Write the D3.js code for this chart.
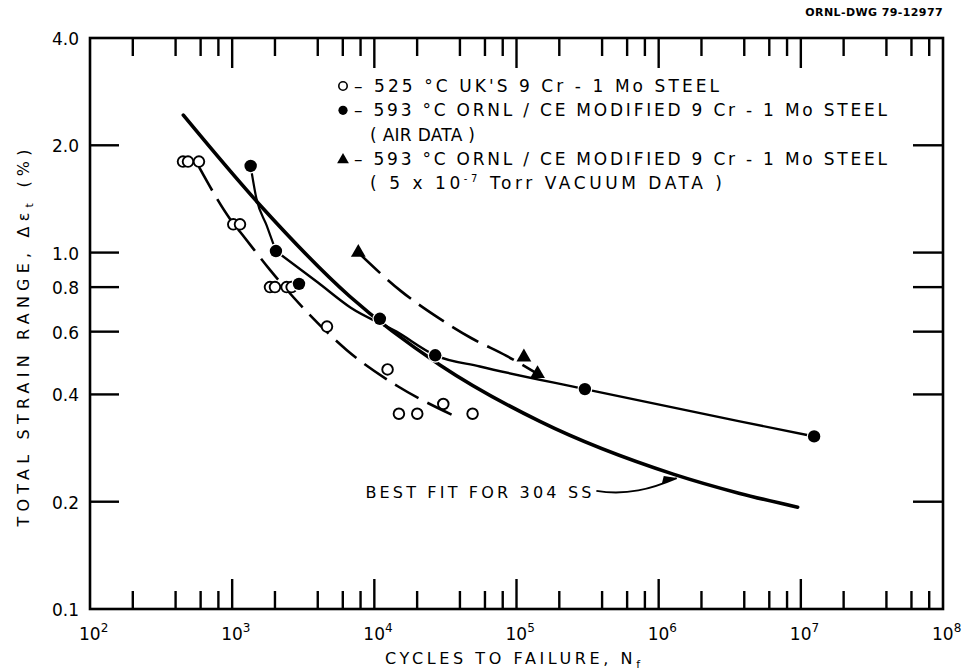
<!DOCTYPE html>
<html lang="en">
<head>
<meta charset="utf-8">
<title>Strain range vs cycles to failure</title>
<script type="text/javascript" src="https://d3js.org/d3.v7.min.js"></script>
<style>
  body { margin: 0; background: #fff; }
  svg text { font-family: "DejaVu Sans", sans-serif; fill: #000; }
  .tick-label { font-size: 17px; }
  .legend { font-size: 17px; }
  .title { font-size: 16px; }
</style>
</head>
<body>
<div id="chart"></div>
<script type="text/javascript">

var w = 963;
var h = 670;

// ---- data ----
// 525 C UK'S 9Cr-1Mo steel (open circles)
var ukCycles = [451, 489, 584, 1018, 1135, 1845, 2000, 2415, 2620, 4645, 12390, 14890, 20040, 30550, 49100];
var ukStrain = [1.8, 1.8, 1.8, 1.2, 1.2, 0.8, 0.8, 0.8, 0.8, 0.62, 0.47, 0.353, 0.353, 0.376, 0.353];
// 593 C ORNL/CE modified 9Cr-1Mo, air (filled circles)
var airCycles = [1349, 2032, 2952, 10940, 26800, 302600, 12400000];
var airStrain = [1.75, 1.01, 0.817, 0.652, 0.515, 0.414, 0.305];
// 593 C ORNL/CE modified 9Cr-1Mo, vacuum (triangles)
var vacCycles = [7713, 112700, 140600];
var vacStrain = [1.0, 0.509, 0.457];

// hand drawn curves
var fit304Cycles = [453, 1567, 6730, 28900, 146000, 1265000, 3720000, 9500000];
var fit304Strain = [2.43, 1.36, 0.753, 0.484, 0.336, 0.239, 0.211, 0.193];
var airFitACycles = [1349, 1480, 1750, 2032];
var airFitAStrain = [1.75, 1.42, 1.19, 1.01];
var airFitBCycles = [2032, 4010, 6830, 14320, 26800, 55300, 302600, 3720000, 12400000];
var airFitBStrain = [1.01, 0.824, 0.70, 0.60, 0.515, 0.479, 0.414, 0.336, 0.305];
var ukFitCycles = [584, 966, 1230, 1845, 3343, 6380, 14720, 35000];
var ukFitStrain = [1.74, 1.243, 1.099, 0.894, 0.683, 0.533, 0.421, 0.351];
var vacFitCycles = [7713, 15560, 27400, 48300, 85100, 140600];
var vacFitStrain = [1.0, 0.777, 0.661, 0.575, 0.513, 0.457];

// axes
var xMajor = [1e2, 1e3, 1e4, 1e5, 1e6, 1e7, 1e8];
var xExp = ["2", "3", "4", "5", "6", "7", "8"];
var xMinorMult = [2, 4, 6, 8];
var yTicks = [0.1, 0.2, 0.4, 0.6, 0.8, 1.0, 2.0, 4.0];
var yLabels = ["0.1", "0.2", "0.4", "0.6", "0.8", "1.0", "2.0", "4.0"];

// annotation (data coords)
var noteText = "BEST FIT FOR 304 SS";
var notePos = [8650, 0.205];
var arrowTo = [1340000, 0.233];

var legendRows = [
  {sym: "open", text: "\u2013 525 \u00b0C  UK'S  9 Cr - 1 Mo  STEEL", len: 365},
  {sym: "filled", text: "\u2013 593 \u00b0C  ORNL / CE  MODIFIED  9 Cr - 1 Mo  STEEL", len: 533},
  {sym: null, text: "( AIR  DATA )", len: 105},
  {sym: "tri", text: "\u2013 593 \u00b0C  ORNL / CE  MODIFIED  9 Cr - 1 Mo  STEEL", len: 533},
  {sym: null, text: "vac", len: 352}
];

var m = {left: 90, right: 20, top: 38, bottom: 61};

var svg = d3.select("div#chart").append("svg")
  .attr("width", w).attr("height", h);

var x = d3.scaleLog().domain([1e2, 1e8]).range([m.left, w - m.right]);
var y = d3.scaleLog().domain([0.1, 4.0]).range([h - m.bottom, m.top]);

// ---- frame + ticks ----
var axes = svg.append("g").attr("id", "axes");

var xMinor = [];
xMajor.slice(0, -1).forEach(function(d) {
  xMinorMult.forEach(function(k) { xMinor.push(d * k); });
});

function tickLines(vals, len, side) {
  axes.selectAll(null).data(vals).enter().append("line")
    .attr("x1", function(d) { return x(d); })
    .attr("x2", function(d) { return x(d); })
    .attr("y1", side == "bottom" ? y(0.1) : y(4.0))
    .attr("y2", side == "bottom" ? y(0.1) - len : y(4.0) + len)
    .attr("stroke", "#000").attr("stroke-width", 2.4);
}
tickLines(xMinor, 18, "bottom");
tickLines(xMajor.slice(1, -1), 30, "bottom");
tickLines(xMinor, 18, "top");
tickLines(xMajor.slice(1, -1), 30, "top");

var yInner = yTicks.slice(1, -1);
axes.selectAll(null).data(yInner).enter().append("line")
  .attr("x1", x(1e2)).attr("x2", x(1e2) + 29)
  .attr("y1", function(d) { return y(d); }).attr("y2", function(d) { return y(d); })
  .attr("stroke", "#000").attr("stroke-width", 2.4);
axes.selectAll(null).data(yInner).enter().append("line")
  .attr("x1", x(1e8)).attr("x2", x(1e8) - 30)
  .attr("y1", function(d) { return y(d); }).attr("y2", function(d) { return y(d); })
  .attr("stroke", "#000").attr("stroke-width", 2.4);

axes.append("rect")
  .attr("x", x(1e2)).attr("y", y(4.0))
  .attr("width", x(1e8) - x(1e2)).attr("height", y(0.1) - y(4.0))
  .attr("fill", "none").attr("stroke", "#000").attr("stroke-width", 2.6);

// tick labels
axes.selectAll(null).data(yTicks).enter().append("text")
  .attr("class", "tick-label")
  .attr("x", x(1e2) - 11)
  .attr("y", function(d) { return y(d) + 7; })
  .attr("text-anchor", "end")
  .text(function(d, i) { return yLabels[i]; });

var xl = axes.selectAll(null).data(xMajor).enter().append("text")
  .attr("class", "tick-label")
  .attr("x", function(d) { return x(d) - 11; })
  .attr("y", y(0.1) + 31);
xl.append("tspan").text("10");
xl.append("tspan").attr("dy", -8).attr("font-size", "12px")
  .text(function(d, i) { return xExp[i]; });

// axis titles
var yt = svg.append("text").attr("class", "title")
  .attr("transform", "translate(29,338) rotate(-90)")
  .attr("text-anchor", "middle")
  .attr("textLength", 377).attr("lengthAdjust", "spacing");
yt.append("tspan").text("TOTAL  STRAIN  RANGE,  \u0394\u03b5");
yt.append("tspan").attr("dy", 4).attr("font-size", "11px").text("t");
yt.append("tspan").attr("dy", -4).text("  (%)");

var xt = svg.append("text").attr("class", "title")
  .attr("x", 385).attr("y", h - 6)
  .attr("textLength", 255).attr("lengthAdjust", "spacing");
xt.append("tspan").text("CYCLES  TO  FAILURE,  N");
xt.append("tspan").attr("dy", 4).attr("font-size", "11px").text("f");

svg.append("text")
  .attr("x", x(1e8)).attr("y", 16)
  .attr("text-anchor", "end")
  .attr("font-size", "11px").attr("font-weight", "bold")
  .attr("letter-spacing", "0.4px")
  .text("ORNL-DWG 79-12977");

// ---- curves ----
var curves = svg.append("g").attr("id", "curves");
function zip(a, b) { return a.map(function(d, i) { return [d, b[i]]; }); }
var line = d3.line()
  .x(function(d) { return x(d[0]); })
  .y(function(d) { return y(d[1]); })
  .curve(d3.curveMonotoneX);

curves.append("path").datum(zip(fit304Cycles, fit304Strain))
  .attr("d", line).attr("fill", "none").attr("stroke", "#000")
  .attr("stroke-width", 3.6).attr("stroke-linecap", "round");
curves.append("path").datum(zip(airFitACycles, airFitAStrain))
  .attr("d", line).attr("fill", "none").attr("stroke", "#000").attr("stroke-width", 2.2);
curves.append("path").datum(zip(airFitBCycles, airFitBStrain))
  .attr("d", line).attr("fill", "none").attr("stroke", "#000").attr("stroke-width", 2.4);
curves.append("path").datum(zip(ukFitCycles, ukFitStrain))
  .attr("d", line).attr("fill", "none").attr("stroke", "#000")
  .attr("stroke-width", 2.6).attr("stroke-dasharray", "27,10");
curves.append("path").datum(zip(vacFitCycles, vacFitStrain))
  .attr("d", line).attr("fill", "none").attr("stroke", "#000")
  .attr("stroke-width", 2.6).attr("stroke-dasharray", "30,10");

// ---- markers ----
var pts = svg.append("g").attr("id", "points");
pts.selectAll(null).data(zip(ukCycles, ukStrain)).enter().append("circle")
  .attr("cx", function(d) { return x(d[0]); }).attr("cy", function(d) { return y(d[1]); })
  .attr("r", 5.3).attr("fill", "#fff").attr("stroke", "#000").attr("stroke-width", 1.9);
pts.selectAll(null).data(zip(airCycles, airStrain)).enter().append("circle")
  .attr("cx", function(d) { return x(d[0]); }).attr("cy", function(d) { return y(d[1]); })
  .attr("r", 6.2).attr("fill", "#000").attr("stroke", "#fff").attr("stroke-width", 2.5)
  .attr("paint-order", "stroke");
var tri = d3.symbol().type(d3.symbolTriangle).size(95);
pts.selectAll(null).data(zip(vacCycles, vacStrain)).enter().append("path")
  .attr("d", tri)
  .attr("transform", function(d) { return "translate(" + x(d[0]) + "," + y(d[1]) + ")"; })
  .attr("fill", "#000");

// ---- annotation ----
var note = svg.append("g").attr("id", "note");
note.append("text").attr("class", "title")
  .attr("x", x(notePos[0])).attr("y", y(notePos[1]))
  .attr("font-size", "17px")
  .attr("textLength", 226).attr("lengthAdjust", "spacing")
  .text(noteText);
var ax0 = x(notePos[0]) + 231, ay0 = y(notePos[1]) - 7;
var ax1 = x(arrowTo[0]), ay1 = y(arrowTo[1]);
note.append("path")
  .attr("d", "M" + ax0 + "," + ay0 + " C" + (ax0 + 30) + "," + (ay0 + 5) + " " + (ax0 + 55) + "," + (ay0 - 2) + " " + ax1 + "," + ay1)
  .attr("fill", "none").attr("stroke", "#000").attr("stroke-width", 1.8);
note.append("path")
  .attr("d", "M" + ax1 + "," + ay1 + " l-15,6 l2,-8 z")
  .attr("fill", "#000");

// ---- legend ----
var lg = svg.append("g").attr("id", "legend");
var lx = 343, ly = 86, ld = 24.3;
legendRows.forEach(function(r, i) {
  var yy = ly + i * ld;
  if (r.sym == "open") {
    lg.append("circle").attr("cx", lx).attr("cy", yy).attr("r", 4.2)
      .attr("fill", "none").attr("stroke", "#000").attr("stroke-width", 1.6);
  } else if (r.sym == "filled") {
    lg.append("circle").attr("cx", lx).attr("cy", yy).attr("r", 4.6).attr("fill", "#000");
  } else if (r.sym == "tri") {
    lg.append("path").attr("d", d3.symbol().type(d3.symbolTriangle).size(60))
      .attr("transform", "translate(" + lx + "," + (yy + 1) + ")");
  }
  var t = lg.append("text").attr("class", "legend")
    .attr("x", r.sym ? lx + 11 : lx + 27).attr("y", yy + 6)
    .attr("textLength", r.len).attr("lengthAdjust", "spacing");
  if (r.text == "vac") {
    t.append("tspan").text("( 5 x 10");
    t.append("tspan").attr("dy", -7).attr("font-size", "10px").text("-7");
    t.append("tspan").attr("dy", 7).text("  Torr  VACUUM  DATA )");
  } else {
    t.text(r.text);
  }
});

</script>
</body>
</html>
